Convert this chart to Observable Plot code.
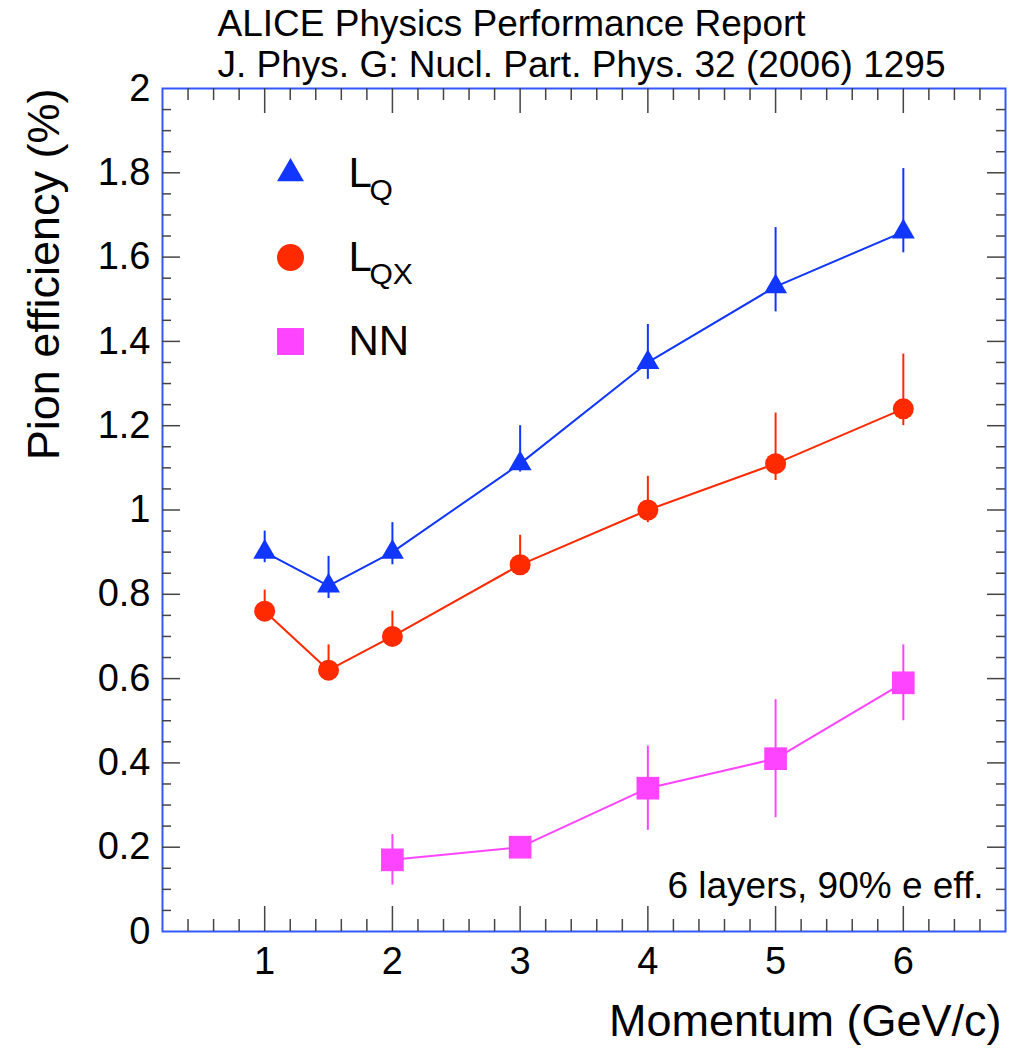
<!DOCTYPE html>
<html>
<head>
<meta charset="utf-8">
<script src="https://cdn.jsdelivr.net/npm/d3@7"></script>
<script src="https://cdn.jsdelivr.net/npm/@observablehq/plot@0.6"></script>
<style>
  html, body { margin: 0; padding: 0; background: white; }
  #chart { width: 1015px; height: 1049px; }
</style>
</head>
<body>
<div id="chart"></div>
<script>
// Momentum points (GeV/c)
const momentum = [1, 1.5, 2, 3, 4, 5, 6];
// L_Q (blue triangles)
const lq     = [0.90, 0.82, 0.90, 1.11, 1.35, 1.53, 1.66];
const lqHi   = [0.95, 0.89, 0.97, 1.20, 1.44, 1.67, 1.81];
const lqLo   = [0.875, 0.79, 0.87, 1.09, 1.31, 1.47, 1.61];
// L_QX (red circles)
const lqx    = [0.76, 0.62, 0.70, 0.87, 1.00, 1.11, 1.24];
const lqxHi  = [0.81, 0.68, 0.76, 0.94, 1.08, 1.23, 1.37];
const lqxLo  = [0.75, 0.61, 0.69, 0.86, 0.97, 1.07, 1.20];
// NN (magenta squares)
const nnMomentum = [2, 3, 4, 5, 6];
const nn     = [0.17, 0.20, 0.34, 0.41, 0.59];
const nnHi   = [0.23, 0.21, 0.44, 0.55, 0.68];
const nnLo   = [0.11, 0.19, 0.24, 0.27, 0.50];

const xTickLabels = [1, 2, 3, 4, 5, 6];
const yTickLabels = [0, 0.2, 0.4, 0.6, 0.8, 1, 1.2, 1.4, 1.6, 1.8, 2];

const xDomain = [0.2, 6.8];
const yDomain = [0, 2];
const xMinor = d3.range(4, 68, 2).map(v => v / 10).filter(v => !xTickLabels.includes(v));
const yMinor = d3.range(5, 200, 5).map(v => v / 100).filter(v => Math.abs(v * 5 - Math.round(v * 5)) > 1e-9);

const BLUE = "#1136ff", RED = "#ff2a00", MAG = "#ff44ff";
const FONT = "'Liberation Sans', Arial, Helvetica, sans-serif";

const rows = (xs, ys, his, los) => xs.map((x, i) => ({x, y: ys[i], hi: his[i], lo: los[i]}));
const dLQ = rows(momentum, lq, lqHi, lqLo);
const dLQX = rows(momentum, lqx, lqxHi, lqxLo);
const dNN = rows(nnMomentum, nn, nnHi, nnLo);

// tick lengths in px converted to data units
const W = 1015, H = 1049, mL = 162, mR = 10, mT = 88, mB = 118;
const pxX = (xDomain[1] - xDomain[0]) / (W - mL - mR);
const pxY = (yDomain[1] - yDomain[0]) / (H - mT - mB);
const TICK = "#444";

const series = [
  {data: dLQ, color: BLUE, symbol: "triangle", r: 8.5},
  {data: dLQX, color: RED, symbol: "circle", r: 10.5},
  {data: dNN, color: MAG, symbol: "square", r: 12.8}
];

const marks = [
  Plot.frame({stroke: "#3358ff", strokeWidth: 2}),
  // bottom / top x ticks
  Plot.ruleX(xTickLabels, {x: d => d, y1: 0, y2: 25 * pxY, stroke: TICK, strokeWidth: 1.5}),
  Plot.ruleX(xMinor, {x: d => d, y1: 0, y2: 12 * pxY, stroke: TICK, strokeWidth: 1.5}),
  Plot.ruleX(xTickLabels, {x: d => d, y1: 2, y2: 2 - 25 * pxY, stroke: TICK, strokeWidth: 1.5}),
  Plot.ruleX(xMinor, {x: d => d, y1: 2, y2: 2 - 12 * pxY, stroke: TICK, strokeWidth: 1.5}),
  // left / right y ticks
  Plot.ruleY(yTickLabels.slice(1, -1), {y: d => d, x1: xDomain[0], x2: xDomain[0] + 18 * pxX, stroke: TICK, strokeWidth: 1.5}),
  Plot.ruleY(yMinor, {y: d => d, x1: xDomain[0], x2: xDomain[0] + 9 * pxX, stroke: TICK, strokeWidth: 1.5}),
  Plot.ruleY(yTickLabels.slice(1, -1), {y: d => d, x1: xDomain[1], x2: xDomain[1] - 18 * pxX, stroke: TICK, strokeWidth: 1.5}),
  Plot.ruleY(yMinor, {y: d => d, x1: xDomain[1], x2: xDomain[1] - 9 * pxX, stroke: TICK, strokeWidth: 1.5}),
  Plot.axisX(xTickLabels, {tickSize: 0, tickPadding: 16, fontSize: 38, tickFormat: d => String(d), label: null}),
  Plot.axisY(yTickLabels, {tickSize: 0, tickPadding: 12, fontSize: 38, tickFormat: d => String(+d.toFixed(1)), label: null})
];

for (const s of series) {
  marks.push(Plot.line(s.data, {x: "x", y: "y", stroke: s.color, strokeWidth: 2}));
  marks.push(Plot.ruleX(s.data, {x: "x", y1: "lo", y2: "hi", stroke: s.color, strokeWidth: 2}));
  marks.push(Plot.dot(s.data, {x: "x", y: "y", symbol: s.symbol, r: s.r, fill: s.color, stroke: "none"}));
}

// legend
const legendRows = [
  {symbol: "triangle", r: 10, color: BLUE, dy: 85, main: "L", sub: "Q"},
  {symbol: "circle", r: 13.5, color: RED, dy: 169, main: "L", sub: "QX"},
  {symbol: "square", r: 15.2, color: MAG, dy: 253, main: "NN", sub: ""}
];
for (const L of legendRows) {
  marks.push(Plot.dot([0], {frameAnchor: "top-left", dx: 128, dy: L.dy, symbol: L.symbol, r: L.r, fill: L.color, stroke: "none"}));
  marks.push(Plot.text([L.main], {text: d => d, frameAnchor: "top-left", dx: 186, dy: L.dy, textAnchor: "start", lineAnchor: "middle", fontSize: 42, fill: "black"}));
  if (L.sub) marks.push(Plot.text([L.sub], {text: d => d, frameAnchor: "top-left", dx: 207, dy: L.dy + 17, textAnchor: "start", lineAnchor: "middle", fontSize: 30, fill: "black"}));
}

// annotations and titles
marks.push(Plot.text(["6 layers, 90% e eff."], {text: d => d, frameAnchor: "bottom-right", dx: -22, dy: -45, textAnchor: "end", lineAnchor: "middle", fontSize: 37, fill: "black"}));
marks.push(Plot.text(["ALICE Physics Performance Report"], {text: d => d, frameAnchor: "top-left", dx: 55, dy: -64, textAnchor: "start", lineAnchor: "middle", fontSize: 37, fill: "black"}));
marks.push(Plot.text(["J. Phys. G: Nucl. Part. Phys. 32 (2006) 1295"], {text: d => d, frameAnchor: "top-left", dx: 55, dy: -23, textAnchor: "start", lineAnchor: "middle", fontSize: 37, fill: "black"}));
marks.push(Plot.text(["Pion efficiency (%)"], {text: d => d, frameAnchor: "top-left", dx: -118, dy: 0, rotate: -90, textAnchor: "end", lineAnchor: "middle", fontSize: 45, fill: "black"}));
marks.push(Plot.text(["Momentum (GeV/c)"], {text: d => d, frameAnchor: "bottom-right", dx: -4, dy: 90, textAnchor: "end", lineAnchor: "middle", fontSize: 45, fill: "black"}));

const chart = Plot.plot({
  width: W, height: H,
  marginLeft: mL, marginRight: mR, marginTop: mT, marginBottom: mB,
  x: {domain: xDomain},
  y: {domain: yDomain},
  style: {fontFamily: FONT, fontSize: "38px", background: "white", color: "black", overflow: "visible"},
  marks
});
document.getElementById("chart").appendChild(chart);
</script>
</body>
</html>
